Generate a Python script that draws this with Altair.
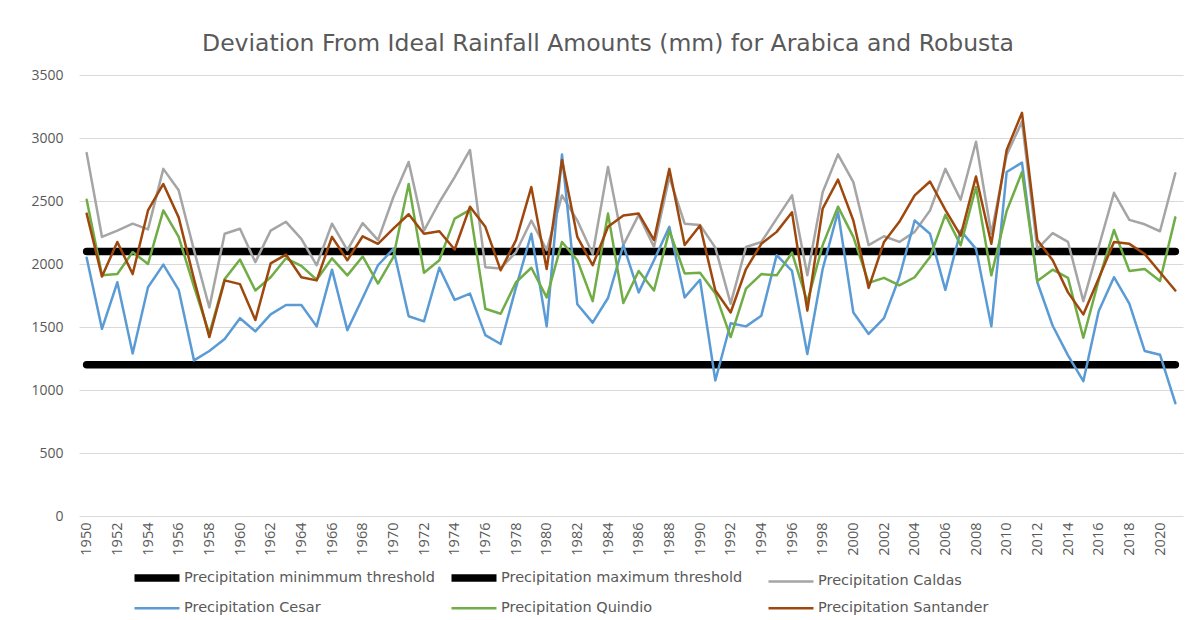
import altair as alt
import pandas as pd

years = list(range(1950, 2022))

caldas = [2880, 2215, 2265, 2320, 2275, 2755, 2585, 2110, 1655, 2240,
          2280, 2015, 2265, 2335, 2200, 1990, 2320, 2110, 2325, 2190,
          2530, 2810, 2265, 2490, 2690, 2905, 1975, 1965, 2095, 2345,
          2110, 2545, 2345, 2080, 2770, 2150, 2390, 2135, 2690, 2320,
          2310, 2130, 1685, 2135, 2175, 2360, 2545, 1910, 2570, 2870,
          2650, 2150, 2220, 2175, 2255, 2425, 2755, 2510, 2970, 2240,
          2865, 3130, 2120, 2245, 2175, 1705, 2135, 2565, 2350, 2315,
          2260, 2720]

cesar = [2050, 1485, 1855, 1290, 1815, 1995, 1795, 1235, 1310, 1405,
         1570, 1465, 1600, 1675, 1675, 1505, 1955, 1475, 1730, 1990,
         2120, 1585, 1545, 1970, 1715, 1765, 1435, 1365, 1815, 2240,
         1505, 2870, 1680, 1535, 1730, 2150, 1775, 2030, 2295, 1735,
         1875, 1075, 1530, 1505, 1590, 2070, 1945, 1285, 1960, 2415,
         1615, 1445, 1570, 1895, 2345, 2240, 1795, 2265, 2120, 1505,
         2730, 2805, 1855, 1510, 1275, 1070, 1625, 1895, 1685, 1310,
         1280, 895]

quindio = [2510, 1910, 1920, 2095, 2000, 2425, 2215, 1820, 1445, 1880,
           2035, 1790, 1895, 2045, 1985, 1875, 2045, 1910, 2060, 1845,
           2055, 2635, 1930, 2030, 2360, 2430, 1645, 1605, 1855, 1970,
           1735, 2175, 2030, 1705, 2400, 1690, 1945, 1790, 2265, 1925,
           1930, 1765, 1420, 1805, 1920, 1910, 2090, 1700, 2150, 2455,
           2215, 1850, 1890, 1830, 1895, 2055, 2390, 2150, 2610, 1910,
           2420, 2730, 1865, 1955, 1890, 1415, 1870, 2270, 1945, 1960,
           1865, 2370]

santander = [2400, 1900, 2175, 1920, 2425, 2635, 2370, 1880, 1420, 1870,
             1840, 1555, 2005, 2075, 1895, 1870, 2215, 2030, 2220, 2160,
             2280, 2395, 2240, 2260, 2115, 2455, 2295, 1950, 2190, 2610,
             1960, 2825, 2215, 1990, 2295, 2385, 2400, 2190, 2755, 2150,
             2305, 1790, 1615, 1960, 2160, 2255, 2410, 1630, 2440, 2670,
             2345, 1810, 2175, 2335, 2545, 2655, 2430, 2225, 2695, 2160,
             2905, 3200, 2190, 2030, 1775, 1600, 1885, 2175, 2160, 2080,
             1935, 1790]

min_threshold = [1200] * len(years)
max_threshold = [2100] * len(years)

series_names = [
    "Precipitation minimmum threshold",
    "Precipitation maximum threshold",
    "Precipitation Caldas",
    "Precipitation Cesar",
    "Precipitation Quindio",
    "Precipitation Santander",
]
series_values = [min_threshold, max_threshold, caldas, cesar, quindio, santander]
series_colors = ["#000000", "#000000", "#A5A5A5", "#5B9BD5", "#70AD47", "#9E480E"]
series_widths = [7.5, 7.5, 2.5, 2.5, 2.5, 2.5]

year_ticks = list(range(1950, 2021, 2))
value_ticks = [0, 500, 1000, 1500, 2000, 2500, 3000, 3500]

rows = []
for i, (name, vals) in enumerate(zip(series_names, series_values)):
    for y, v in zip(years, vals):
        rows.append({"Year": y, "Value": v, "Series": name, "k": i})
df = pd.DataFrame(rows)

FONT = "Open Sans"
WIDE = "DejaVu Sans"
GREY_TXT = "#595959"

x_enc = alt.X(
    "Year:Q",
    scale=alt.Scale(domain=[1949.5, 2021.5], nice=False, zero=False),
    axis=alt.Axis(
        values=year_ticks, format="d", labelAngle=270, labelAlign="right",
        labelBaseline="middle", labelPadding=6, ticks=False, domain=False,
        grid=False, title=None, labelFont=FONT, labelFontSize=14.5,
        labelColor=GREY_TXT, labelOverlap=False,
    ),
)
y_enc = alt.Y(
    "Value:Q",
    scale=alt.Scale(domain=[0, 3500], nice=False),
    axis=alt.Axis(
        values=value_ticks, format="d", ticks=False, domain=False, grid=True,
        gridColor="#D9D9D9", gridWidth=1, title=None, labelFont=FONT,
        labelFontSize=14, labelColor=GREY_TXT, labelPadding=16,
    ),
)
color_enc = alt.Color(
    "Series:N",
    scale=alt.Scale(domain=series_names, range=series_colors),
    title=None,
)
width_enc = alt.StrokeWidth(
    "Series:N",
    scale=alt.Scale(type="ordinal", domain=series_names, range=series_widths),
    title=None,
)

base = alt.Chart(df).mark_line(strokeCap="round", strokeJoin="round").encode(
    x=x_enc, y=y_enc, color=color_enc, strokeWidth=width_enc, detail="Series:N",
    order="Year:Q",
)

thresholds = base.transform_filter("datum.k < 2")
regions = base.transform_filter("datum.k >= 2")

chart = (
    alt.layer(thresholds, regions)
    .properties(
        width=1104,
        height=441,
        autosize=alt.AutoSizeParams(type="none"),
        padding={"left": 71, "top": 67, "right": 2, "bottom": 100},
        title=alt.TitleParams(
            "Deviation From Ideal Rainfall Amounts (mm) for Arabica and Robusta",
            font=WIDE, fontSize=23.5, fontWeight="normal", color=GREY_TXT,
            anchor="middle", dx=-23, offset=13,
        ),
    )
    .configure_view(stroke=None)
    .configure_legend(
        orient="none", legendX=69, legendY=494, columns=3, direction="horizontal",
        gridAlign="all", symbolType="M-4.5,0L4.5,0", symbolSize=100,
        labelFont=WIDE, labelFontSize=14.5, labelColor=GREY_TXT,
        columnPadding=0, rowPadding=7, labelLimit=0, labelOffset=18,
    )
)

chart.save("out.html", embed_options={"renderer": "svg", "actions": False})
